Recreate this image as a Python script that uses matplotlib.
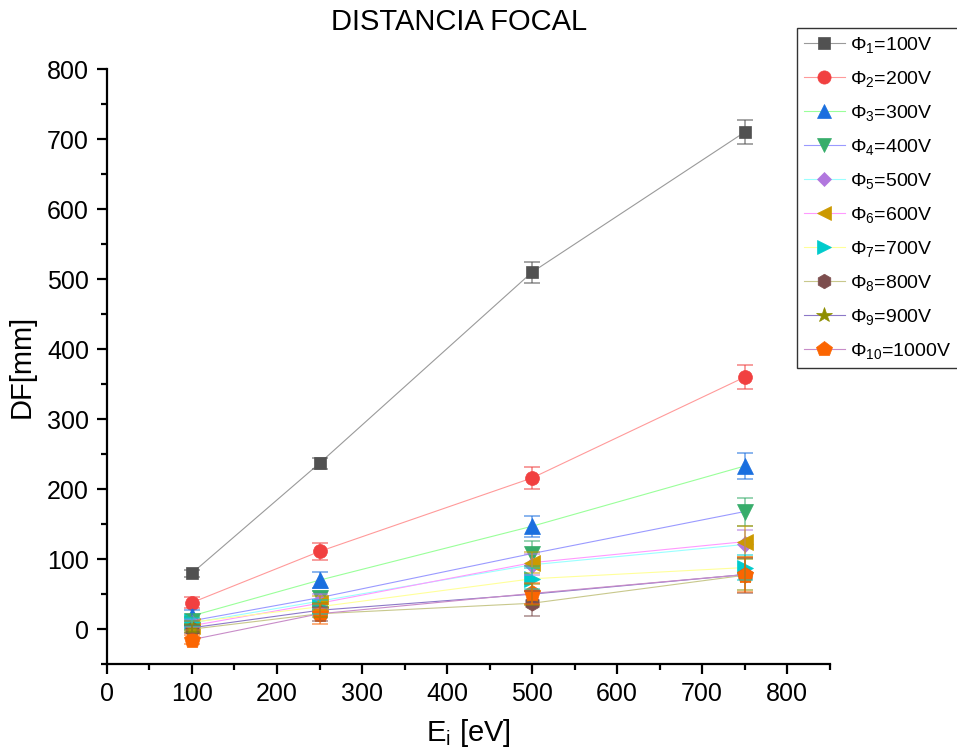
import numpy as np
import matplotlib.pyplot as plt
from matplotlib.ticker import MultipleLocator

plt.rcParams['font.family'] = ['Liberation Sans', 'DejaVu Sans']
plt.rcParams['mathtext.fontset'] = 'custom'
plt.rcParams['mathtext.rm'] = 'Liberation Sans'
plt.rcParams['mathtext.it'] = 'Liberation Sans:italic'

# data
energy = [100, 250, 500, 750]
labels = [r'$\Phi_{%d}$=%dV' % (i, 100 * i) for i in range(1, 11)]

df1 = [80, 237, 510, 710]
df2 = [38, 111, 216, 360]
df3 = [19, 70, 147, 233]
df4 = [12, 45, 108, 168]
df5 = [9, 40, 92, 121]
df6 = [5, 37, 95, 125]
df7 = [10, 32, 72, 88]
df8 = [0, 22, 37, 77]
df9 = [2, 27, 50, 78]
df10 = [-15, 22, 51, 78]

err1 = [5, 8, 15, 17]
err2 = [8, 12, 16, 17]
err3 = [8, 11, 15, 18]
err4 = [6, 10, 18, 20]
err5 = [6, 10, 15, 20]
err6 = [6, 10, 15, 22]
err7 = [6, 10, 15, 18]
err8 = [6, 10, 18, 25]
err9 = [6, 10, 15, 22]
err10 = [6, 14, 15, 25]

series = [df1, df2, df3, df4, df5, df6, df7, df8, df9, df10]
errors = [err1, err2, err3, err4, err5, err6, err7, err8, err9, err10]

markers = ['s', 'o', '^', 'v', 'D', '<', '>', 'h', '*', 'p']
msizes = [9, 10, 11, 11, 8, 11, 11, 11, 12, 12]
mcolors = ['#515151', '#F14040', '#1A6FDF', '#37AD6B', '#B177DE',
           '#CC9900', '#00CBCC', '#7D4E4E', '#8E8E00', '#FB6501']
lcolors = ['#9a9a9a', '#ff9a9a', '#9aff9a', '#9a9aff', '#9affff',
           '#ff9aff', '#ffff9a', '#c8c88c', '#8c78c8', '#c88cc8']

fig = plt.figure(figsize=(9.57, 7.53), dpi=100)
ax = fig.add_axes([0.1118, 0.118, 0.755, 0.790])

for i in range(10):
    ax.plot(energy, series[i], color=lcolors[i], linewidth=0.8, zorder=2,
            marker=markers[i], markersize=msizes[i], markerfacecolor=mcolors[i],
            markeredgecolor=mcolors[i], markeredgewidth=0.5, label=labels[i])
    ax.errorbar(energy, series[i], yerr=errors[i], fmt='none', ecolor=mcolors[i],
                alpha=0.6, elinewidth=1.2, capsize=6, capthick=1.2, zorder=3)

ax.set_xlim(0, 850)
ax.set_ylim(-50, 800)
ax.xaxis.set_major_locator(MultipleLocator(100))
ax.xaxis.set_minor_locator(MultipleLocator(50))
ax.yaxis.set_major_locator(MultipleLocator(100))
ax.yaxis.set_minor_locator(MultipleLocator(50))
ax.spines['top'].set_visible(False)
ax.spines['right'].set_visible(False)
ax.spines['left'].set_linewidth(1.6)
ax.spines['bottom'].set_linewidth(1.6)
ax.tick_params(which='major', direction='out', length=7, width=1.6,
               labelsize=18, pad=6)
ax.tick_params(which='minor', direction='out', length=4, width=1.6)

ax.set_xlabel(r'E$_{\mathrm{i}}$ [eV]', fontsize=21, labelpad=8)
ax.set_ylabel('DF[mm]', fontsize=21, labelpad=8)
fig.text(0.48, 1 - 22 / 753, 'DISTANCIA FOCAL', fontsize=21,
         ha='center', va='center')

leg = fig.legend(loc='upper left', bbox_to_anchor=(797 / 957, 1 - 28 / 753),
                 fontsize=14, frameon=True, fancybox=False, edgecolor='black',
                 borderpad=0.35, labelspacing=0.72, handlelength=2.1,
                 handletextpad=0.3, borderaxespad=0, markerscale=0.95)
leg.get_frame().set_linewidth(1.0)

plt.savefig('out.png', dpi=100)
